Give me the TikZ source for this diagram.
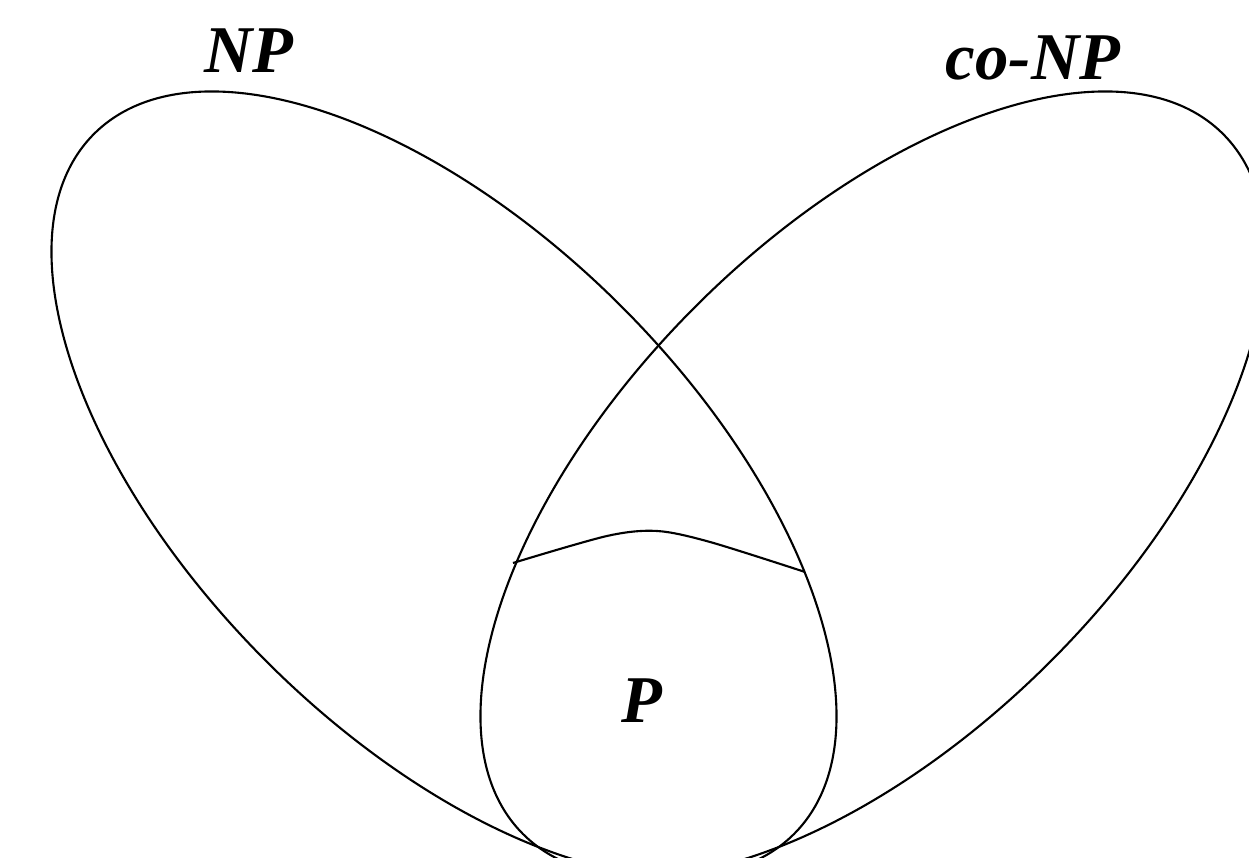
\documentclass[tikz,border=0pt]{standalone}
\usepackage{fontspec}
\setmainfont{Liberation Serif}
\usepackage{tikz}

\begin{document}
\begin{tikzpicture}[
    set/.style={draw=black, line width=0.6pt},
    setlabel/.style={font=\fontsize{19}{23}\selectfont\bfseries\itshape, inner sep=0pt}
]
\useasboundingbox (0,0) rectangle (12.49,8.58);
\clip (0,0) rectangle (12.49,8.58);

\coordinate (npc) at (4.44,3.74);
\coordinate (conpc) at (8.73,3.74);

% the two classes
\draw[set, rotate around={-45:(npc)}] (npc) ellipse [x radius=4.95, y radius=2.51];
\draw[set, rotate around={45:(conpc)}] (conpc) ellipse [x radius=4.95, y radius=2.51];

% upper edge of P
\coordinate (pleft) at (5.13,2.95);
\coordinate (ptop) at (6.57,3.27);
\coordinate (pright) at (8.05,2.86);
\draw[set] plot[smooth, tension=0.5] coordinates {(pleft) (6.07,3.22) (ptop) (7.10,3.16) (pright)};

\node[setlabel] (np) at (2.49,8.07) {NP};
\node[setlabel] (conp) at (10.33,8.00) {co-NP};
\node[setlabel] (p) at (6.42,1.57) {P};
\end{tikzpicture}
\end{document}
